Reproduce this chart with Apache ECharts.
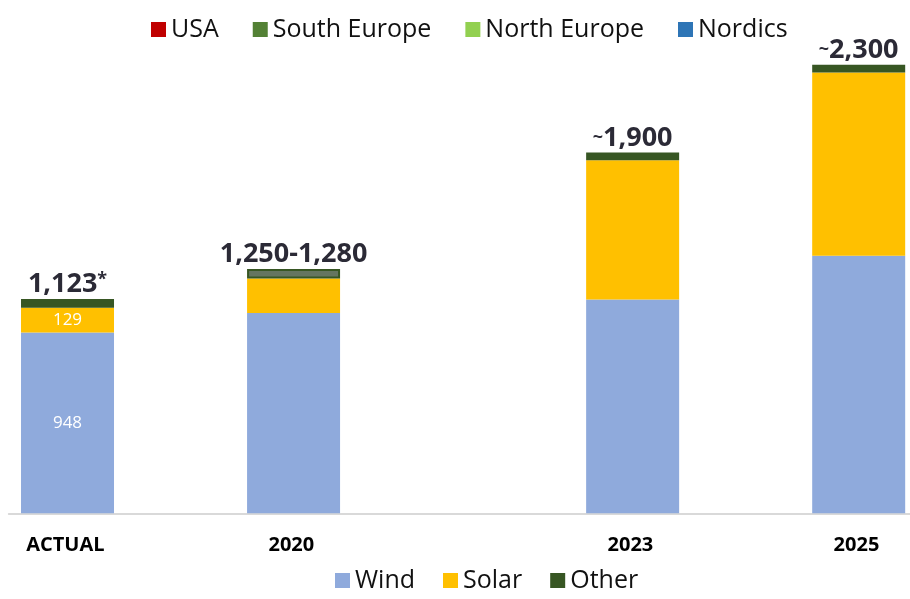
<!DOCTYPE html>
<html>
<head>
<meta charset="utf-8">
<script src="https://cdn.jsdelivr.net/npm/echarts@6/dist/echarts.min.js"></script>
<style>
  html, body { margin: 0; padding: 0; background: #fff; }
  #chart { width: 910px; height: 599px; }
</style>
</head>
<body>
<div id="chart"></div>
<script>
// Installed capacity by technology (MW)
const periods = ['ACTUAL', '2020', '2023', '2025'];
const periodYears = [2018, 2020, 2023, 2025];
const wind = [948, 1050, 1120, 1350];
const solar = [129, 180, 730, 960];
const other = [46, 50, 40, 40];
const totalLabels = ['1,123*', '1,250-1,280', '~1,900', '~2,300'];
const windInside = ['948', null, null, null];
const solarInside = ['129', null, null, null];
const regions = ['USA', 'South Europe', 'North Europe', 'Nordics'];
const techs = ['Wind', 'Solar', 'Other'];

const regionColors = ['#c00000', '#538135', '#92d050', '#2e75b6'];
const techColors = ['#8faadc', '#ffc000', '#375623'];
const FONT = '"Open Sans", "Noto Sans", sans-serif';

// One axis slot per calendar year so gaps between periods follow the timeline
const firstYear = periodYears[0];
const lastYear = periodYears[periodYears.length - 1];
const yearSlots = [];
for (let y = firstYear; y <= lastYear; y++) yearSlots.push(y);
const slotLabels = yearSlots.map(y => {
  const i = periodYears.indexOf(y);
  return i >= 0 ? periods[i] : '';
});

// place a per-period array onto the yearly slots ('-' = no bar)
function onSlots(values) {
  return yearSlots.map(y => {
    const i = periodYears.indexOf(y);
    return i >= 0 ? values[i] : '-';
  });
}
function periodOf(slotIndex) {
  return periodYears.indexOf(yearSlots[slotIndex]);
}

const chart = echarts.init(document.getElementById('chart'), null, { renderer: 'canvas' });

function insideLabel(texts) {
  return {
    show: true,
    position: 'inside',
    color: '#fff',
    fontFamily: FONT,
    fontSize: 17,
    formatter: p => {
      const i = periodOf(p.dataIndex);
      return i >= 0 && texts[i] ? texts[i] : '';
    }
  };
}

const regionSeries = regions.map((name, i) => ({
  name, type: 'bar', data: [], itemStyle: { color: regionColors[i] }
}));

const otherData = onSlots(other).map((v, s) => {
  // the 2020 band is an estimated range, drawn lighter with an outline
  if (slotLabels[s] === '2020') {
    return {
      value: v,
      itemStyle: { color: '#647560', borderColor: '#375623', borderWidth: 2 }
    };
  }
  return v;
});

const option = {
  animation: false,
  backgroundColor: '#fff',
  grid: {
    left: 8.8, width: 904.2, top: 13.3, bottom: 85.7,
    containLabel: false, outerBoundsMode: 'none'
  },
  legend: [
    {
      data: regions,
      left: 146, top: 12,
      icon: 'rect', itemWidth: 15, itemHeight: 15, itemGap: 34,
      textStyle: { fontFamily: FONT, fontSize: 25, color: '#111' },
      selectedMode: false
    },
    {
      data: techs,
      left: 330, top: 563,
      icon: 'rect', itemWidth: 15, itemHeight: 15, itemGap: 28,
      textStyle: { fontFamily: FONT, fontSize: 25, color: '#111' },
      selectedMode: false
    }
  ],
  xAxis: {
    type: 'category',
    data: slotLabels,
    axisTick: { show: false },
    axisLine: { show: true, lineStyle: { color: '#d9d9d9', width: 2 } },
    axisLabel: {
      interval: 0,
      margin: 22,
      fontFamily: FONT,
      fontWeight: 'bold',
      fontSize: 20,
      color: '#000'
    }
  },
  yAxis: {
    type: 'value',
    min: 0,
    max: 2620,
    show: false,
    splitLine: { show: false }
  },
  series: [
    ...regionSeries,
    {
      name: 'Wind', type: 'bar', stack: 'total', barWidth: 93,
      itemStyle: { color: techColors[0] },
      label: insideLabel(windInside),
      data: onSlots(wind)
    },
    {
      name: 'Solar', type: 'bar', stack: 'total', barWidth: 93,
      itemStyle: { color: techColors[1] },
      label: insideLabel(solarInside),
      data: onSlots(solar)
    },
    {
      name: 'Other', type: 'bar', stack: 'total', barWidth: 93,
      itemStyle: { color: techColors[2] },
      label: {
        show: true,
        position: 'top',
        distance: 1,
        formatter: p => {
          const i = periodOf(p.dataIndex);
          if (i < 0) return '';
          return totalLabels[i]
            .replace('~', '{t|~}')
            .replace('*', '{s|*}')
            .replace(/([0-9][0-9,\-]*[0-9])/, '{n|$1}');
        },
        rich: {
          n: { fontFamily: FONT, fontWeight: 'bold', fontSize: 27, color: '#2b2a36' },
          t: { fontFamily: FONT, fontWeight: 'bold', fontSize: 18, color: '#2b2a36' },
          s: { fontFamily: FONT, fontWeight: 'bold', fontSize: 18, color: '#2b2a36', verticalAlign: 'top' }
        }
      },
      data: otherData
    }
  ]
};

chart.setOption(option);
</script>
</body>
</html>
